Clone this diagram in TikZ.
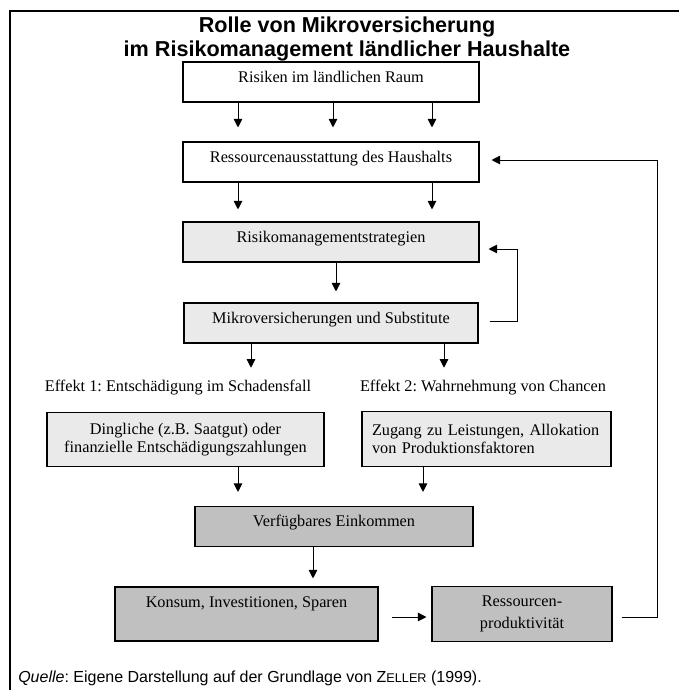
\documentclass[tikz,border=0pt]{standalone}
\usepackage{fontspec}
\setmainfont{Liberation Serif}
\newfontfamily\arialfont{Liberation Sans}
\usetikzlibrary{arrows.meta, positioning}
\definecolor{lightfill}{HTML}{EAEAEA}
\definecolor{darkfill}{HTML}{C0C0C0}
\frenchspacing

\begin{document}
\begin{tikzpicture}[x=0.75pt, y=-0.75pt,
  every node/.style={font=\fontsize{12.2}{14}\selectfont},
  box/.style={draw, line width=0.8pt, inner sep=0pt, minimum height=30pt, text height=15pt, text depth=15pt},
  tallbox/.style={draw, line width=0.8pt, inner sep=0pt, text height=15pt, text depth=25.5pt},
  twobox/.style={draw, line width=0.8pt, inner xsep=7.5pt, inner ysep=0pt, minimum height=41pt},
  light/.style={fill=lightfill},
  dark/.style={fill=darkfill},
  effekt/.style={inner sep=0pt, text height=9pt, text depth=3pt},
  arr/.style={-{Triangle[length=6.5pt, width=6.5pt]}, line width=0.75pt},
  frame/.style={line width=2pt}]

	\useasboundingbox (0, 0) rectangle (679, 690);
	\draw[frame] (10, 700) |- (700, 11);

	\node[font=\arialfont\fontsize{16.2}{18}\selectfont\bfseries, align=center] (title) at (347, 39) {Rolle von Mikroversicherung\\im Risikomanagement ländlicher Haushalte};

	\node[box, minimum width=222pt] (risk) 		at (331, 82) 	{Risiken im ländlichen Raum};
	\node[box, minimum width=222pt] (endow) 	at (331, 162) 	{Ressourcenausstattung des Haushalts};
	\node[box, light, minimum width=222pt] (strat) 	at (331, 242) 	{Risikomanagementstrategien};
	\node[box, light, minimum width=220.5pt] (micro) 	at (331, 323) 	{Mikroversicherungen und Substitute};

	\node[effekt] (eff1) 	at (178, 387) 	{Effekt 1: Entschädigung im Schadensfall};
	\node[effekt] (eff2) 	at (483, 387) 	{Effekt 2: Wahrnehmung von Chancen};

	\node[twobox, light, minimum width=207.75pt, align=center] (payout) 	at (185.5, 439.5) 	{Dingliche (z.B. Saatgut) oder\\finanzielle Entschädigungszahlungen};
	\node[twobox, light, minimum width=186.75pt, text width=171.75pt, align=left] (access) 	at (486.5, 439) 	{Zugang zu Leistungen, Allokation\\von Produktionsfaktoren};

	\node[box, dark, minimum width=208.5pt] (income) 	at (334, 526.5) 	{Verfügbares Einkommen};
	\node[tallbox, dark, minimum width=197.25pt] (consume) 	at (246.5, 614) 	{Konsum, Investitionen, Sparen};
	\node[twobox, dark, minimum width=135pt, align=center, font=\fontsize{12.2}{16.5}\selectfont] (prod) 	at (522, 614) 	{Ressourcen-\\produktivität};

	\node[anchor=base west, inner sep=0pt, font=\arialfont\fontsize{12}{14}\selectfont] (quelle) at (18, 682) {\textit{Quelle}: Eigene Darstellung auf der Grundlage von Z{\fontsize{9.5}{11}\selectfont ELLER} (1999).};

	%Spalten der Pfeile
	\coordinate (left) 	at (238, 0);
	\coordinate (mid) 	at (333, 0);
	\coordinate (right) 	at (432, 0);
	\coordinate (down) 	at (336, 0);
	\coordinate (effl) 	at (251, 0);
	\coordinate (effr) 	at (444, 0);
	\coordinate (accd) 	at (423, 0);
	\coordinate (incd) 	at (313, 0);
	\coordinate (loopA) 	at (517, 0);
	\coordinate (loopB) 	at (657, 0);

	\draw[arr, shorten >=10.5pt] (risk.south -| left) to (endow.north -| left);
	\draw[arr, shorten >=10.5pt] (risk.south -| mid) to (endow.north -| mid);
	\draw[arr, shorten >=10.5pt] (risk.south -| right) to (endow.north -| right);

	\draw[arr, shorten >=9pt] (endow.south -| left) to (strat.north -| left);
	\draw[arr, shorten >=9pt] (endow.south -| right) to (strat.north -| right);

	\draw[arr, shorten >=8.25pt] (strat.south -| down) to (micro.north -| down);

	\draw[arr, shorten >=8.25pt] (micro.south -| effl) to (eff1.north -| effl);
	\draw[arr, shorten >=8.25pt] (micro.south -| effr) to (eff2.north -| effr);

	\draw[arr, shorten >=10.5pt] (payout.south -| left) to (income.north -| left);
	\draw[arr, shorten >=10.5pt] (access.south -| accd) to (income.north -| accd);

	\draw[arr, shorten >=6pt] (income.south -| incd) to (consume.north -| incd);
	\draw[arr, shorten <=9.75pt, shorten >=3.75pt] ([yshift=-2.25pt]consume.east) to ([yshift=-2.25pt]prod.west);

	%Rueckkopplungen rechts
	\draw[arr, shorten <=8.25pt, shorten >=6.75pt] ([yshift=1.5pt]micro.east) -- ([yshift=1.5pt]micro.east -| loopA) |- ([yshift=-5.25pt]strat.east);
	\draw[arr, shorten <=6.75pt, shorten >=9pt] ([yshift=-2.25pt]prod.east) -- ([yshift=-2.25pt]prod.east -| loopB) |- ([yshift=1.5pt]endow.east);

\end{tikzpicture}
\end{document}
